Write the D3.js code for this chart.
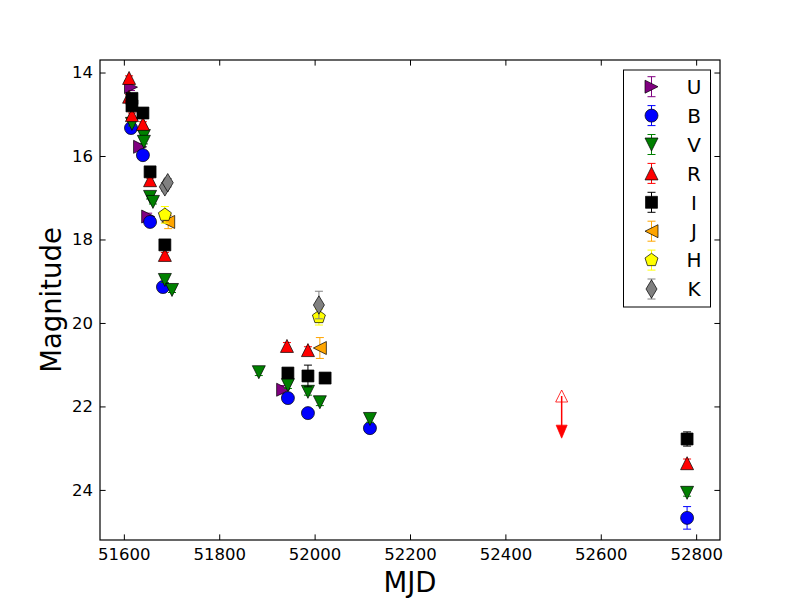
<!DOCTYPE html>
<html><head><meta charset="utf-8">
<script src="https://cdn.jsdelivr.net/npm/d3@7"></script>
<style>body{margin:0;background:#fff} text{font-family:"DejaVu Sans",sans-serif;fill:#000}</style>
</head><body><svg id="c" width="800" height="600"></svg>
<script>
// ---- data (MJD, magnitude, error) ----
const bands  = ["U","B","V","R","I","J","H","K"];
const colors = ["purple","blue","green","red","black","orange","yellow","gray"];
const shapes = ["tright","circle","tdown","tup","square","tleft","pentagon","diamond"];
const U = [[51615,14.35,0.08],[51634,15.78,0.08],[51651,17.45,0.08],[51934,21.6,0.1]];
const B = [[51615,15.33,0.05],[51640,15.98,0.05],[51655,17.58,0.06],[51682,19.14,0.06],
           [51944,21.8,0.08],[51986,22.16,0.08],[52116,22.52,0.08],[52781,24.67,0.27]];
const V = [[51617,15.23,0.05],[51642,15.52,0.05],[51642,15.66,0.05],[51655,16.98,0.05],
           [51661,17.1,0.05],[51686,18.97,0.06],[51701,19.21,0.06],[51883,21.18,0.08],
           [51944,21.49,0.08],[51986,21.65,0.08],[52011,21.9,0.08],[52116,22.3,0.08],[52781,24.07,0.08]];
const R = [[51611,14.13,0.05],[51611,14.58,0.05],[51617,15.02,0.05],[51640,15.23,0.05],
           [51655,16.58,0.05],[51686,18.37,0.06],[51942,20.55,0.08],[51986,20.65,0.08],[52781,23.36,0.1]];
const I = [[51617,14.62,0.05],[51617,14.8,0.05],[51640,14.97,0.05],[51655,16.38,0.05],
           [51686,18.13,0.06],[51944,21.2,0.08],[51986,21.27,0.26],[52022,21.32,0.08],[52781,22.78,0.17]];
const J = [[51693,17.58,0.16],[52011,20.6,0.25]];
const H = [[51686,17.41,0.2],[52009,19.86,0.19]];
const K = [[51686,16.74,0.1],[51692,16.64,0.1],[52009,19.57,0.33]];
const seriesData = [U,B,V,R,I,J,H,K];
const upperLimitR = [[52518,21.75,22.76]]; // MJD, limit, arrow end
const xTicks = [51600,51800,52000,52200,52400,52600,52800];
const yTicks = [14,16,18,20,22,24];

// ---- layout ----
const svg = d3.select("#c");
const L=100,Rr=720,T=60,Bt=540;
const x = d3.scaleLinear([51550,52850],[L,Rr]);
const y = d3.scaleLinear([13.7,25.2],[T,Bt]);
const S = 13;

function shapePath(type,s){
  const h=s/2;
  const p=d3.path();
  if(type==="circle"){p.arc(0,0,h,0,2*Math.PI);p.closePath();}
  else if(type==="square"){const a=s*0.46;p.rect(-a,-a,2*a,2*a);}
  else if(type==="tup"){p.moveTo(0,-h);p.lineTo(-h,h);p.lineTo(h,h);p.closePath();}
  else if(type==="tdown"){p.moveTo(0,h);p.lineTo(-h,-h);p.lineTo(h,-h);p.closePath();}
  else if(type==="tright"){p.moveTo(h,0);p.lineTo(-h,-h);p.lineTo(-h,h);p.closePath();}
  else if(type==="tleft"){p.moveTo(-h,0);p.lineTo(h,-h);p.lineTo(h,h);p.closePath();}
  else if(type==="pentagon"){const r=h*1.05;for(let i=0;i<5;i++){const a=-Math.PI/2+i*2*Math.PI/5;const px=r*Math.cos(a),py=r*Math.sin(a);i?p.lineTo(px,py):p.moveTo(px,py);}p.closePath();}
  else if(type==="diamond"){const dh=s*0.707,dw=dh*0.6;p.moveTo(0,-dh);p.lineTo(dw,0);p.lineTo(0,dh);p.lineTo(-dw,0);p.closePath();}
  return p.toString();
}

// axes ticks
const gx=svg.append("g").attr("transform",`translate(0,${Bt})`)
  .call(d3.axisBottom(x).tickValues(xTicks).tickFormat(d3.format("d")).tickSizeInner(-5.6).tickSizeOuter(0).tickPadding(8));
const gxt=svg.append("g").attr("transform",`translate(0,${T})`)
  .call(d3.axisTop(x).tickValues(xTicks).tickFormat("").tickSizeInner(-5.6).tickSizeOuter(0));
const gy=svg.append("g").attr("transform",`translate(${L},0)`)
  .call(d3.axisLeft(y).tickValues(yTicks).tickSizeInner(-5.6).tickSizeOuter(0).tickPadding(7));
const gyr=svg.append("g").attr("transform",`translate(${Rr},0)`)
  .call(d3.axisRight(y).tickValues(yTicks).tickFormat("").tickSizeInner(-5.6).tickSizeOuter(0));
[gx,gxt,gy,gyr].forEach(g=>{g.select(".domain").remove();g.selectAll("line").attr("stroke","#000").attr("stroke-width",1);
  g.selectAll("text").style("font-family","DejaVu Sans").style("font-size","16.5px").attr("fill","#000");});

// data
const plot=svg.append("g");
seriesData.forEach((data,i)=>{
  const g=plot.append("g");
  data.forEach(d=>{
    const cx=x(d[0]),cy=y(d[1]),y0=y(d[1]-d[2]),y1=y(d[1]+d[2]);
    g.append("line").attr("x1",cx).attr("x2",cx).attr("y1",y0).attr("y2",y1).attr("stroke",colors[i]).attr("stroke-width",1);
    [y0,y1].forEach(yy=>g.append("line").attr("x1",cx-4).attr("x2",cx+4).attr("y1",yy).attr("y2",yy).attr("stroke",colors[i]).attr("stroke-width",1));
    g.append("path").attr("d",shapePath(shapes[i],S)).attr("transform",`translate(${cx},${cy})`)
      .attr("fill",colors[i]).attr("stroke","#000").attr("stroke-width",0.7);
  });
});

// upper limit
upperLimitR.forEach(d=>{
  const cx=x(d[0]),cy=y(d[1]),ye=y(d[2]);
  plot.append("line").attr("x1",cx).attr("x2",cx).attr("y1",cy).attr("y2",ye-10).attr("stroke","red").attr("stroke-width",1.5);
  plot.append("path").attr("d",`M${cx-5.5},${ye-13}L${cx+5.5},${ye-13}L${cx},${ye}Z`).attr("fill","red").attr("stroke","red").attr("stroke-width",0.7);
  plot.append("path").attr("d",shapePath("tup",12)).attr("transform",`translate(${cx},${cy})`)
    .attr("fill","none").attr("stroke","red").attr("stroke-width",0.8);
});

// frame
svg.append("rect").attr("x",L).attr("y",T).attr("width",Rr-L).attr("height",Bt-T).attr("fill","none").attr("stroke","#000").attr("stroke-width",1.2);

// axis labels
svg.append("text").attr("x",(L+Rr)/2).attr("y",592).attr("text-anchor","middle").style("font-size","27.5px").text("MJD");
svg.append("text").attr("transform","translate(61,300) rotate(-90)").attr("text-anchor","middle").style("font-size","27.5px").text("Magnitude");

// legend
const lg=svg.append("g");
lg.append("rect").attr("x",623.5).attr("y",70).attr("width",87).attr("height",237).attr("fill","#fff").attr("stroke","#000").attr("stroke-width",1);
bands.forEach((b,i)=>{
  const ly=86.7+i*28.9, lx=651.5;
  lg.append("line").attr("x1",lx).attr("x2",lx).attr("y1",ly-10).attr("y2",ly+10).attr("stroke",colors[i]).attr("stroke-width",1);
  [ly-10,ly+10].forEach(yy=>lg.append("line").attr("x1",lx-4).attr("x2",lx+4).attr("y1",yy).attr("y2",yy).attr("stroke",colors[i]).attr("stroke-width",1));
  lg.append("path").attr("d",shapePath(shapes[i],S)).attr("transform",`translate(${lx},${ly})`)
    .attr("fill",colors[i]).attr("stroke","#000").attr("stroke-width",0.7);
  lg.append("text").attr("x",694).attr("y",ly).attr("dy","0.36em").attr("text-anchor","middle").style("font-size","20px").text(b);
});
</script></body></html>
